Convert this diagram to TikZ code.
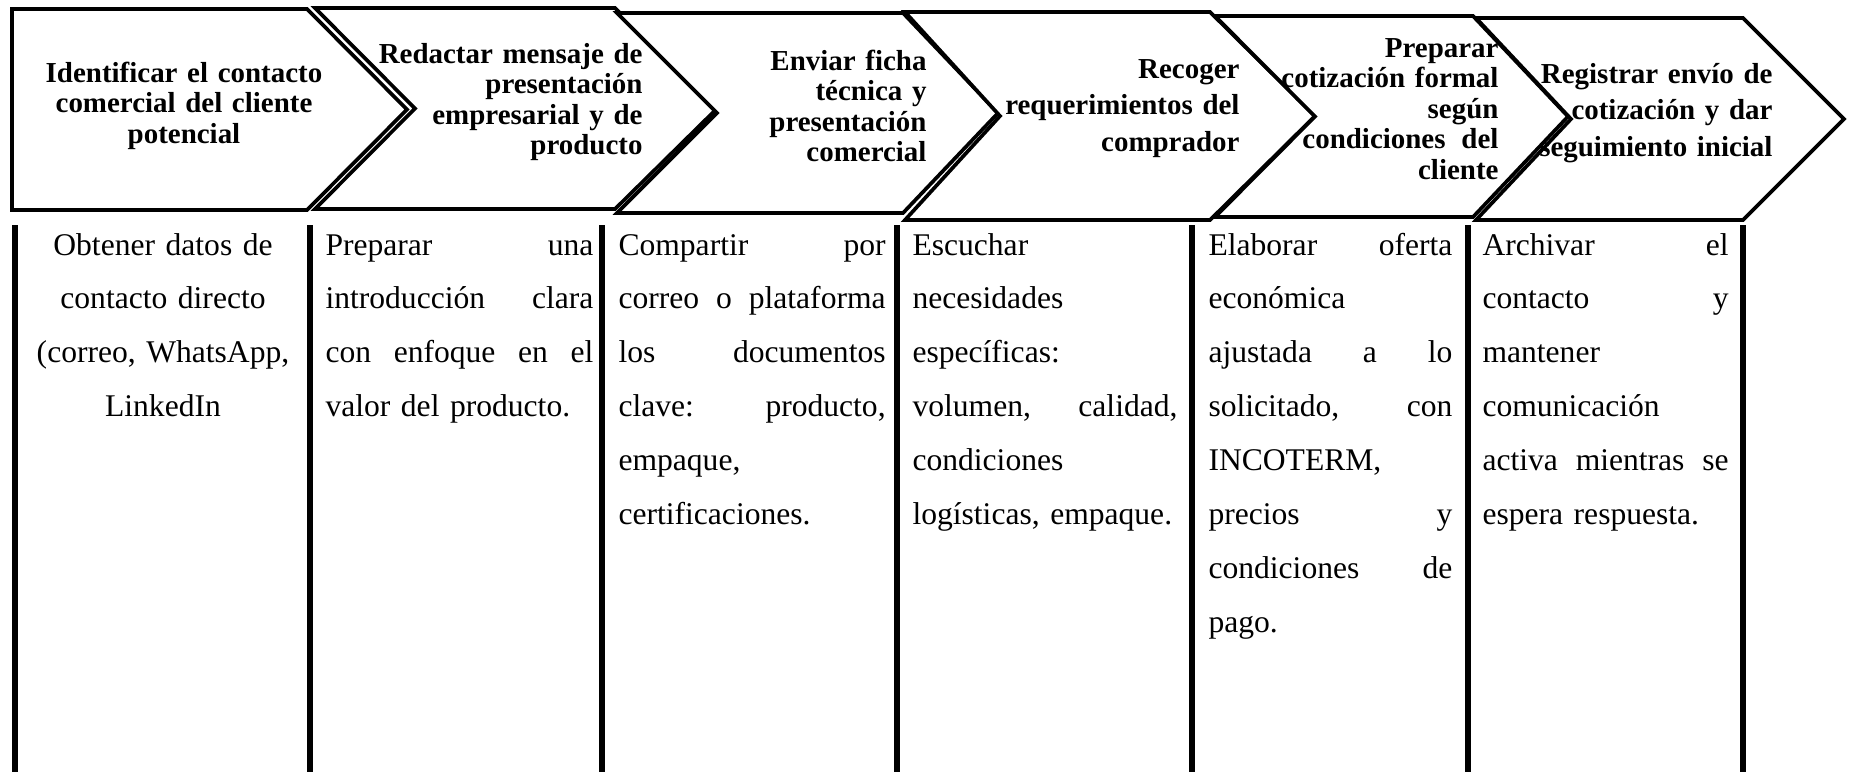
\documentclass[tikz,border=0pt]{standalone}
\usepackage{fontspec}
\setmainfont{Liberation Serif}
\usepackage{tikz}
\newcommand{\hdrfont}{\bfseries\fontsize{11pt}{11.6pt}\selectfont}
\newcommand{\hdrwide}{\bfseries\fontsize{11pt}{13.9pt}\selectfont}
\newcommand{\cellfont}{\fontsize{12pt}{20.5pt}\selectfont}

\begin{document}
\begin{tikzpicture}[
    x=0.38pt, y=-0.38pt,
    chev/.style={draw=black, line width=1.4pt, fill=white, line join=miter},
    colrule/.style={line width=2.1pt},
    hdr/.style={inner sep=0pt, anchor=base east, align=right, font=\hdrfont},
    cell/.style={inner sep=0pt, anchor=base west, align=left, font=\cellfont},
  ]
  \useasboundingbox (0,0) rectangle (1851,772);
  \foreach \xl/\xs/\xt/\yt/\yb/\nd in {12/307/407/9/210/0, 315/615/717/8/209/100,
      617/903/998/13/213/100, 905/1210/1315/12/220/95,
      1215/1473/1568/16/217/100, 1476/1743/1844/18/220/95}
    \draw[chev] (\xl,\yt) -- (\xs,\yt) -- (\xt,{(\yt+\yb)/2}) -- (\xs,\yb)
      -- (\xl,\yb) -- ({\xl+\nd},{(\yt+\yb)/2}) -- cycle;
  \foreach \x in {15,310,602,897,1192,1468,1743}
    \draw[colrule] (\x,225) -- (\x,772);

  \node[hdr, anchor=base, align=center, text width=114pt] (h1) at (184,82)
    {Identificar el contacto\\ comercial del cliente\\ potencial};
  \node[hdr, text width=102.6pt] (h2) at (643,63)
    {Redactar mensaje de\\ presentación\\ empresarial y de\\ producto};
  \node[hdr, text width=76pt] (h3) at (927,70)
    {Enviar ficha\\ técnica y\\ presentación\\ comercial};
  \node[hdr, font=\hdrwide, text width=91pt] (h4) at (1240,78)
    {Recoger\\ requerimientos del\\ comprador};
  \node[hdr, text width=87.4pt] (h5) at (1499,57)
    {Preparar\\ cotización formal\\ según\\ condiciones\hspace{0.55em}del\\ cliente};
  \node[hdr, font=\hdrwide, text width=95pt] (h6) at (1773,83)
    {Registrar envío de\\ cotización y dar\\ seguimiento inicial};

  \node[cell, anchor=base, align=center, text width=112pt] (d1) at (163,255)
    {Obtener datos de\\ contacto directo\\ (correo, WhatsApp,\\ LinkedIn};
  \node[cell, text width=101.8pt] (d2) at (325,255)
    {Preparar\hfill una\\ introducción\hfill clara\\ con\hfill enfoque\hfill en\hfill el\\ valor del producto.};
  \node[cell, text width=101.5pt] (d3) at (618,255)
    {Compartir\hfill por\\ correo\hfill o\hfill plataforma\\ los\hfill documentos\\ clave:\hfill producto,\\ empaque,\\ certificaciones.};
  \node[cell, text width=100.7pt] (d4) at (912,255)
    {Escuchar\\ necesidades\\ específicas:\\ volumen,\hfill calidad,\\ condiciones\\ logísticas, empaque.};
  \node[cell, text width=92.7pt] (d5) at (1208,255)
    {Elaborar\hfill oferta\\ económica\\ ajustada\hfill a\hfill lo\\ solicitado,\hfill con\\ INCOTERM,\\ precios\hfill y\\ condiciones\hfill de\\ pago.};
  \node[cell, text width=93.5pt] (d6) at (1482,255)
    {Archivar\hfill el\\ contacto\hfill y\\ mantener\\ comunicación\\ activa\hfill mientras\hfill se\\ espera respuesta.};
\end{tikzpicture}
\end{document}
